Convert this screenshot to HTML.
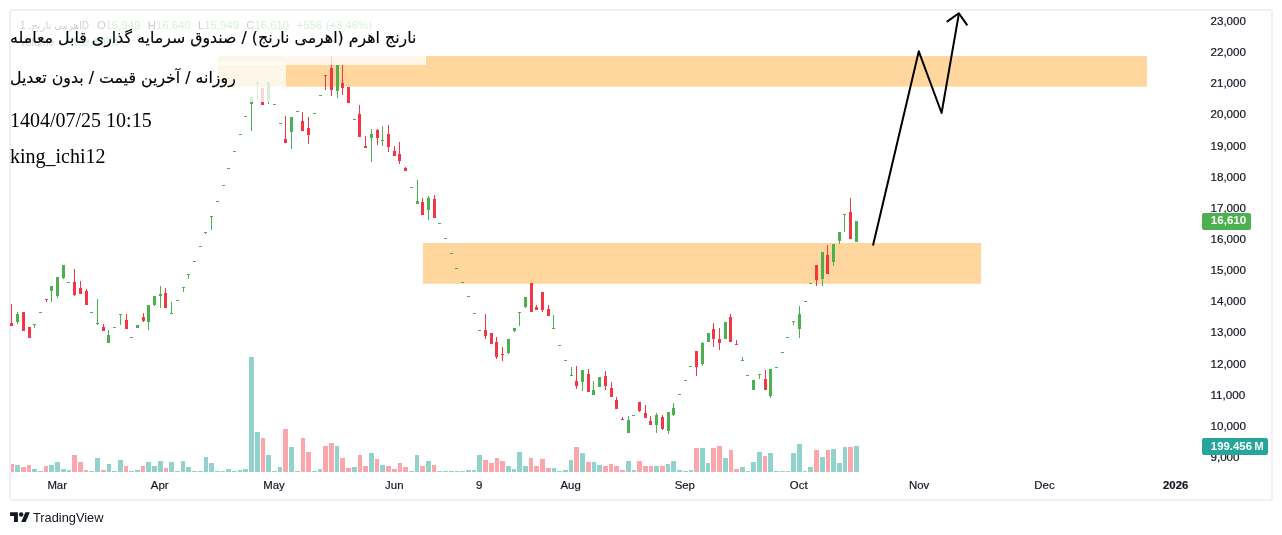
<!DOCTYPE html>
<html lang="fa"><head><meta charset="utf-8"><title>TradingView chart</title>
<style>
html,body{margin:0;padding:0;background:#fff;}
body{width:1282px;height:535px;position:relative;overflow:hidden;font-family:"Liberation Sans","DejaVu Sans",sans-serif;color:#131722;}
#frame{position:absolute;left:9px;top:9px;width:1260px;height:488px;border:2px solid #eff0f5;border-radius:3px;box-sizing:content-box;}
svg{position:absolute;left:0;top:0;}
.pl{position:absolute;left:1210.5px;font-size:11.6px;line-height:14px;height:14px;white-space:nowrap;color:#131722;-webkit-text-stroke:0.2px #131722;}
.tl{position:absolute;top:478.4px;font-size:11.4px;line-height:14px;height:14px;white-space:nowrap;transform:translateX(-50%);color:#131722;-webkit-text-stroke:0.2px #131722;}
.ov{position:absolute;background:rgba(255,255,255,0.78);}
.big{position:absolute;left:10px;white-space:nowrap;color:#000;font-family:"Liberation Serif","DejaVu Sans",serif;font-size:20px;line-height:24px;height:24px;}
.ar{font-family:"DejaVu Sans","Liberation Sans",sans-serif;-webkit-text-stroke:0.15px #000;}
.lg{position:absolute;left:19px;white-space:nowrap;font-size:10.6px;line-height:13px;color:#131722;}
.lg .g{color:#4CAF50}.lg .t{color:#26A69A}
.tag{position:absolute;color:#fff;font-weight:bold;font-size:11.6px;line-height:14px;white-space:nowrap;box-sizing:border-box;border-radius:2px;}
#logo{position:absolute;left:33px;top:510px;font-size:12.8px;line-height:16px;color:#131722;white-space:nowrap;}
</style></head><body>
<div id="frame"></div>

<div class="lg" style="top:18.6px;left:auto;right:1193px;font-size:10.1px">اهرمی نارنج, 1D</div>
<div class="lg" style="top:18.6px;left:97px;font-size:11.3px;word-spacing:0.6px">O<span class="g">15,949</span>&nbsp; H<span class="g">16,640</span>&nbsp; L<span class="g">15,949</span>&nbsp; C<span class="g">16,610</span>&nbsp; <span class="g">+556 (+3.46%)</span></div>
<div class="lg" style="top:35.8px;left:19.4px;font-size:10.5px">Volume</div>
<div class="lg t" style="top:35.8px;left:72px;font-size:10.3px;color:#26A69A">199.456M</div>
<svg width="1282" height="535" viewBox="0 0 1282 535">
<rect x="218" y="56" width="929" height="30.7" fill="#FFD79E"/>
<rect x="423" y="243" width="558" height="40.8" fill="#FFD79E"/>
<g shape-rendering="crispEdges">
<rect x="11" y="464" width="3" height="8" fill="#FAA6AC"/>
<rect x="15" y="465" width="5" height="7" fill="#92D2CC"/>
<rect x="21" y="467" width="5" height="5" fill="#FAA6AC"/>
<rect x="27" y="465" width="4" height="7" fill="#FAA6AC"/>
<rect x="32" y="469" width="5" height="3" fill="#92D2CC"/>
<rect x="38" y="471" width="5" height="1" fill="#92D2CC"/>
<rect x="44" y="466" width="4" height="6" fill="#FAA6AC"/>
<rect x="49" y="465" width="5" height="7" fill="#92D2CC"/>
<rect x="55" y="462" width="5" height="10" fill="#92D2CC"/>
<rect x="61" y="469" width="5" height="3" fill="#92D2CC"/>
<rect x="67" y="470" width="4" height="2" fill="#92D2CC"/>
<rect x="72" y="455" width="5" height="17" fill="#FAA6AC"/>
<rect x="78" y="462" width="5" height="10" fill="#FAA6AC"/>
<rect x="84" y="470" width="4" height="2" fill="#FAA6AC"/>
<rect x="89" y="471" width="5" height="1" fill="#92D2CC"/>
<rect x="95" y="458" width="5" height="14" fill="#92D2CC"/>
<rect x="101" y="470" width="5" height="2" fill="#FAA6AC"/>
<rect x="107" y="464" width="4" height="8" fill="#92D2CC"/>
<rect x="112" y="471" width="5" height="1" fill="#92D2CC"/>
<rect x="118" y="460" width="5" height="12" fill="#92D2CC"/>
<rect x="124" y="466" width="4" height="6" fill="#FAA6AC"/>
<rect x="129" y="471" width="5" height="1" fill="#92D2CC"/>
<rect x="135" y="470" width="5" height="2" fill="#92D2CC"/>
<rect x="141" y="466" width="4" height="6" fill="#FAA6AC"/>
<rect x="146" y="462" width="5" height="10" fill="#92D2CC"/>
<rect x="152" y="466" width="5" height="6" fill="#92D2CC"/>
<rect x="158" y="461" width="5" height="11" fill="#92D2CC"/>
<rect x="164" y="468" width="4" height="4" fill="#FAA6AC"/>
<rect x="169" y="462" width="5" height="10" fill="#92D2CC"/>
<rect x="175" y="471" width="5" height="1" fill="#92D2CC"/>
<rect x="181" y="461" width="4" height="11" fill="#92D2CC"/>
<rect x="186" y="467" width="5" height="5" fill="#92D2CC"/>
<rect x="192" y="471" width="5" height="1" fill="#92D2CC"/>
<rect x="198" y="471" width="5" height="1" fill="#92D2CC"/>
<rect x="204" y="457" width="4" height="15" fill="#92D2CC"/>
<rect x="209" y="463" width="5" height="9" fill="#92D2CC"/>
<rect x="215" y="471" width="5" height="1" fill="#92D2CC"/>
<rect x="221" y="471" width="4" height="1" fill="#92D2CC"/>
<rect x="226" y="469" width="5" height="3" fill="#92D2CC"/>
<rect x="232" y="471" width="5" height="1" fill="#92D2CC"/>
<rect x="238" y="470" width="4" height="2" fill="#92D2CC"/>
<rect x="243" y="469" width="5" height="3" fill="#92D2CC"/>
<rect x="249" y="357" width="5" height="115" fill="#92D2CC"/>
<rect x="255" y="432" width="5" height="40" fill="#92D2CC"/>
<rect x="261" y="438" width="4" height="34" fill="#FAA6AC"/>
<rect x="266" y="455" width="5" height="17" fill="#92D2CC"/>
<rect x="272" y="471" width="5" height="1" fill="#92D2CC"/>
<rect x="278" y="467" width="4" height="5" fill="#92D2CC"/>
<rect x="283" y="429" width="5" height="43" fill="#FAA6AC"/>
<rect x="289" y="447" width="5" height="25" fill="#92D2CC"/>
<rect x="295" y="471" width="5" height="1" fill="#92D2CC"/>
<rect x="301" y="438" width="4" height="34" fill="#FAA6AC"/>
<rect x="306" y="452" width="5" height="20" fill="#FAA6AC"/>
<rect x="312" y="471" width="5" height="1" fill="#92D2CC"/>
<rect x="318" y="469" width="4" height="3" fill="#92D2CC"/>
<rect x="323" y="446" width="5" height="26" fill="#FAA6AC"/>
<rect x="329" y="443" width="5" height="29" fill="#FAA6AC"/>
<rect x="335" y="446" width="4" height="26" fill="#92D2CC"/>
<rect x="340" y="458" width="5" height="14" fill="#FAA6AC"/>
<rect x="346" y="468" width="5" height="4" fill="#FAA6AC"/>
<rect x="352" y="467" width="5" height="5" fill="#92D2CC"/>
<rect x="358" y="455" width="4" height="17" fill="#FAA6AC"/>
<rect x="363" y="466" width="5" height="6" fill="#FAA6AC"/>
<rect x="369" y="453" width="5" height="19" fill="#92D2CC"/>
<rect x="375" y="459" width="4" height="13" fill="#FAA6AC"/>
<rect x="380" y="465" width="5" height="7" fill="#92D2CC"/>
<rect x="386" y="466" width="5" height="6" fill="#FAA6AC"/>
<rect x="392" y="469" width="5" height="3" fill="#FAA6AC"/>
<rect x="398" y="463" width="4" height="9" fill="#FAA6AC"/>
<rect x="403" y="467" width="5" height="5" fill="#FAA6AC"/>
<rect x="409" y="471" width="5" height="1" fill="#92D2CC"/>
<rect x="415" y="455" width="4" height="17" fill="#92D2CC"/>
<rect x="420" y="466" width="5" height="6" fill="#FAA6AC"/>
<rect x="426" y="461" width="5" height="11" fill="#92D2CC"/>
<rect x="432" y="465" width="4" height="7" fill="#FAA6AC"/>
<rect x="437" y="471" width="5" height="1" fill="#92D2CC"/>
<rect x="443" y="471" width="5" height="1" fill="#92D2CC"/>
<rect x="449" y="471" width="5" height="1" fill="#92D2CC"/>
<rect x="455" y="471" width="4" height="1" fill="#92D2CC"/>
<rect x="460" y="471" width="5" height="1" fill="#92D2CC"/>
<rect x="466" y="470" width="5" height="2" fill="#92D2CC"/>
<rect x="472" y="470" width="4" height="2" fill="#92D2CC"/>
<rect x="477" y="455" width="5" height="17" fill="#92D2CC"/>
<rect x="483" y="460" width="5" height="12" fill="#FAA6AC"/>
<rect x="489" y="463" width="5" height="9" fill="#FAA6AC"/>
<rect x="495" y="458" width="4" height="14" fill="#FAA6AC"/>
<rect x="500" y="461" width="5" height="11" fill="#FAA6AC"/>
<rect x="506" y="466" width="5" height="6" fill="#92D2CC"/>
<rect x="512" y="469" width="4" height="3" fill="#92D2CC"/>
<rect x="517" y="452" width="5" height="20" fill="#92D2CC"/>
<rect x="523" y="466" width="5" height="6" fill="#92D2CC"/>
<rect x="529" y="458" width="4" height="14" fill="#FAA6AC"/>
<rect x="534" y="466" width="5" height="6" fill="#FAA6AC"/>
<rect x="540" y="459" width="5" height="13" fill="#FAA6AC"/>
<rect x="546" y="468" width="5" height="4" fill="#FAA6AC"/>
<rect x="552" y="468" width="4" height="4" fill="#92D2CC"/>
<rect x="557" y="471" width="5" height="1" fill="#92D2CC"/>
<rect x="563" y="470" width="5" height="2" fill="#92D2CC"/>
<rect x="569" y="460" width="4" height="12" fill="#92D2CC"/>
<rect x="574" y="447" width="5" height="25" fill="#FAA6AC"/>
<rect x="580" y="453" width="5" height="19" fill="#92D2CC"/>
<rect x="586" y="462" width="5" height="10" fill="#FAA6AC"/>
<rect x="592" y="462" width="4" height="10" fill="#92D2CC"/>
<rect x="597" y="465" width="5" height="7" fill="#92D2CC"/>
<rect x="603" y="466" width="5" height="6" fill="#FAA6AC"/>
<rect x="609" y="464" width="4" height="8" fill="#FAA6AC"/>
<rect x="614" y="466" width="5" height="6" fill="#FAA6AC"/>
<rect x="620" y="470" width="5" height="2" fill="#FAA6AC"/>
<rect x="626" y="461" width="5" height="11" fill="#92D2CC"/>
<rect x="632" y="470" width="4" height="2" fill="#92D2CC"/>
<rect x="637" y="461" width="5" height="11" fill="#FAA6AC"/>
<rect x="643" y="466" width="5" height="6" fill="#FAA6AC"/>
<rect x="649" y="466" width="4" height="6" fill="#FAA6AC"/>
<rect x="654" y="466" width="5" height="6" fill="#92D2CC"/>
<rect x="660" y="466" width="5" height="6" fill="#FAA6AC"/>
<rect x="666" y="464" width="4" height="8" fill="#92D2CC"/>
<rect x="671" y="461" width="5" height="11" fill="#92D2CC"/>
<rect x="677" y="470" width="5" height="2" fill="#92D2CC"/>
<rect x="683" y="471" width="5" height="1" fill="#92D2CC"/>
<rect x="689" y="470" width="4" height="2" fill="#92D2CC"/>
<rect x="694" y="448" width="5" height="24" fill="#FAA6AC"/>
<rect x="700" y="448" width="5" height="24" fill="#92D2CC"/>
<rect x="706" y="463" width="4" height="9" fill="#92D2CC"/>
<rect x="711" y="448" width="5" height="24" fill="#FAA6AC"/>
<rect x="717" y="446" width="5" height="26" fill="#FAA6AC"/>
<rect x="723" y="458" width="5" height="14" fill="#92D2CC"/>
<rect x="729" y="450" width="4" height="22" fill="#FAA6AC"/>
<rect x="734" y="469" width="5" height="3" fill="#FAA6AC"/>
<rect x="740" y="467" width="5" height="5" fill="#92D2CC"/>
<rect x="746" y="471" width="4" height="1" fill="#92D2CC"/>
<rect x="751" y="462" width="5" height="10" fill="#92D2CC"/>
<rect x="757" y="452" width="5" height="20" fill="#92D2CC"/>
<rect x="763" y="456" width="4" height="16" fill="#FAA6AC"/>
<rect x="768" y="453" width="5" height="19" fill="#92D2CC"/>
<rect x="774" y="471" width="5" height="1" fill="#92D2CC"/>
<rect x="780" y="471" width="5" height="1" fill="#92D2CC"/>
<rect x="786" y="471" width="4" height="1" fill="#92D2CC"/>
<rect x="791" y="453" width="5" height="19" fill="#92D2CC"/>
<rect x="797" y="444" width="5" height="28" fill="#92D2CC"/>
<rect x="803" y="471" width="4" height="1" fill="#92D2CC"/>
<rect x="808" y="467" width="5" height="5" fill="#92D2CC"/>
<rect x="814" y="450" width="5" height="22" fill="#FAA6AC"/>
<rect x="820" y="457" width="5" height="15" fill="#92D2CC"/>
<rect x="826" y="450" width="4" height="22" fill="#FAA6AC"/>
<rect x="831" y="449" width="5" height="23" fill="#92D2CC"/>
<rect x="837" y="463" width="5" height="9" fill="#92D2CC"/>
<rect x="843" y="447" width="4" height="25" fill="#92D2CC"/>
<rect x="848" y="447" width="5" height="25" fill="#FAA6AC"/>
<rect x="854" y="446" width="5" height="26" fill="#92D2CC"/>
<rect x="11" y="304" width="1" height="22" fill="#F23645"/>
<rect x="10" y="323" width="3" height="3" fill="#F23645"/>
<rect x="17" y="312" width="1" height="12" fill="#4CAF50"/>
<rect x="16" y="314" width="3" height="8" fill="#4CAF50"/>
<rect x="22" y="312" width="3" height="19" fill="#F23645"/>
<rect x="28" y="327" width="3" height="11" fill="#F23645"/>
<rect x="34" y="324" width="1" height="4" fill="#4CAF50"/>
<rect x="33" y="324" width="3" height="1" fill="#4CAF50"/>
<rect x="39" y="312" width="3" height="1" fill="#4CAF50"/>
<rect x="46" y="299" width="1" height="3" fill="#F23645"/>
<rect x="45" y="299" width="3" height="1" fill="#F23645"/>
<rect x="51" y="286" width="1" height="16" fill="#4CAF50"/>
<rect x="50" y="286" width="3" height="5" fill="#4CAF50"/>
<rect x="57" y="277" width="1" height="21" fill="#4CAF50"/>
<rect x="56" y="277" width="3" height="19" fill="#4CAF50"/>
<rect x="63" y="265" width="1" height="14" fill="#4CAF50"/>
<rect x="62" y="265" width="3" height="13" fill="#4CAF50"/>
<rect x="67" y="282" width="3" height="1" fill="#4CAF50"/>
<rect x="74" y="269" width="1" height="27" fill="#F23645"/>
<rect x="73" y="282" width="3" height="13" fill="#F23645"/>
<rect x="80" y="281" width="1" height="13" fill="#F23645"/>
<rect x="79" y="288" width="3" height="6" fill="#F23645"/>
<rect x="86" y="289" width="1" height="16" fill="#F23645"/>
<rect x="85" y="291" width="3" height="14" fill="#F23645"/>
<rect x="90" y="312" width="3" height="1" fill="#4CAF50"/>
<rect x="97" y="299" width="1" height="26" fill="#4CAF50"/>
<rect x="96" y="323" width="3" height="1" fill="#4CAF50"/>
<rect x="103" y="324" width="1" height="7" fill="#F23645"/>
<rect x="102" y="327" width="3" height="4" fill="#F23645"/>
<rect x="108" y="330" width="1" height="13" fill="#4CAF50"/>
<rect x="107" y="335" width="3" height="8" fill="#4CAF50"/>
<rect x="113" y="327" width="3" height="1" fill="#4CAF50"/>
<rect x="120" y="314" width="1" height="11" fill="#4CAF50"/>
<rect x="119" y="314" width="3" height="1" fill="#4CAF50"/>
<rect x="126" y="314" width="1" height="15" fill="#F23645"/>
<rect x="125" y="320" width="3" height="9" fill="#F23645"/>
<rect x="130" y="337" width="3" height="1" fill="#4CAF50"/>
<rect x="136" y="325" width="3" height="3" fill="#4CAF50"/>
<rect x="143" y="313" width="1" height="9" fill="#F23645"/>
<rect x="142" y="317" width="3" height="4" fill="#F23645"/>
<rect x="148" y="305" width="1" height="25" fill="#4CAF50"/>
<rect x="147" y="305" width="3" height="17" fill="#4CAF50"/>
<rect x="154" y="296" width="1" height="10" fill="#4CAF50"/>
<rect x="153" y="296" width="3" height="9" fill="#4CAF50"/>
<rect x="160" y="286" width="1" height="22" fill="#4CAF50"/>
<rect x="159" y="294" width="3" height="2" fill="#4CAF50"/>
<rect x="165" y="288" width="1" height="20" fill="#F23645"/>
<rect x="164" y="293" width="3" height="15" fill="#F23645"/>
<rect x="171" y="302" width="1" height="12" fill="#4CAF50"/>
<rect x="170" y="313" width="3" height="1" fill="#4CAF50"/>
<rect x="176" y="300" width="3" height="1" fill="#4CAF50"/>
<rect x="183" y="287" width="1" height="5" fill="#4CAF50"/>
<rect x="182" y="287" width="3" height="1" fill="#4CAF50"/>
<rect x="188" y="274" width="1" height="5" fill="#4CAF50"/>
<rect x="187" y="274" width="3" height="1" fill="#4CAF50"/>
<rect x="193" y="261" width="3" height="1" fill="#4CAF50"/>
<rect x="199" y="246" width="3" height="1" fill="#4CAF50"/>
<rect x="205" y="232" width="1" height="2" fill="#4CAF50"/>
<rect x="204" y="232" width="3" height="1" fill="#4CAF50"/>
<rect x="211" y="216" width="1" height="14" fill="#4CAF50"/>
<rect x="210" y="216" width="3" height="1" fill="#4CAF50"/>
<rect x="216" y="201" width="3" height="1" fill="#4CAF50"/>
<rect x="222" y="185" width="3" height="1" fill="#4CAF50"/>
<rect x="227" y="168" width="3" height="1" fill="#4CAF50"/>
<rect x="233" y="151" width="3" height="1" fill="#4CAF50"/>
<rect x="239" y="134" width="3" height="1" fill="#4CAF50"/>
<rect x="244" y="116" width="3" height="1" fill="#4CAF50"/>
<rect x="251" y="97" width="1" height="34" fill="#4CAF50"/>
<rect x="250" y="97" width="3" height="7" fill="#4CAF50"/>
<rect x="257" y="82" width="1" height="18" fill="#4CAF50"/>
<rect x="256" y="82" width="3" height="2" fill="#4CAF50"/>
<rect x="261" y="88" width="3" height="17" fill="#F23645"/>
<rect x="268" y="82" width="1" height="22" fill="#4CAF50"/>
<rect x="267" y="82" width="3" height="19" fill="#4CAF50"/>
<rect x="273" y="104" width="3" height="1" fill="#4CAF50"/>
<rect x="279" y="123" width="3" height="1" fill="#4CAF50"/>
<rect x="285" y="116" width="1" height="27" fill="#F23645"/>
<rect x="284" y="139" width="3" height="4" fill="#F23645"/>
<rect x="291" y="117" width="1" height="32" fill="#4CAF50"/>
<rect x="290" y="117" width="3" height="15" fill="#4CAF50"/>
<rect x="296" y="111" width="3" height="1" fill="#4CAF50"/>
<rect x="302" y="112" width="1" height="19" fill="#F23645"/>
<rect x="301" y="121" width="3" height="10" fill="#F23645"/>
<rect x="308" y="117" width="1" height="27" fill="#F23645"/>
<rect x="307" y="128" width="3" height="7" fill="#F23645"/>
<rect x="313" y="113" width="3" height="1" fill="#4CAF50"/>
<rect x="319" y="95" width="3" height="1" fill="#4CAF50"/>
<rect x="325" y="75" width="1" height="15" fill="#F23645"/>
<rect x="324" y="75" width="3" height="1" fill="#F23645"/>
<rect x="331" y="56" width="1" height="40" fill="#F23645"/>
<rect x="330" y="68" width="3" height="22" fill="#F23645"/>
<rect x="337" y="65" width="1" height="33" fill="#4CAF50"/>
<rect x="336" y="65" width="3" height="26" fill="#4CAF50"/>
<rect x="342" y="65" width="1" height="30" fill="#F23645"/>
<rect x="341" y="83" width="3" height="5" fill="#F23645"/>
<rect x="347" y="87" width="3" height="16" fill="#F23645"/>
<rect x="353" y="119" width="3" height="1" fill="#4CAF50"/>
<rect x="359" y="105" width="1" height="32" fill="#F23645"/>
<rect x="358" y="114" width="3" height="23" fill="#F23645"/>
<rect x="365" y="136" width="1" height="12" fill="#F23645"/>
<rect x="364" y="146" width="3" height="2" fill="#F23645"/>
<rect x="371" y="129" width="1" height="33" fill="#4CAF50"/>
<rect x="370" y="134" width="3" height="4" fill="#4CAF50"/>
<rect x="377" y="129" width="1" height="16" fill="#F23645"/>
<rect x="376" y="130" width="3" height="8" fill="#F23645"/>
<rect x="382" y="126" width="1" height="20" fill="#4CAF50"/>
<rect x="381" y="140" width="3" height="1" fill="#4CAF50"/>
<rect x="388" y="125" width="1" height="27" fill="#F23645"/>
<rect x="387" y="134" width="3" height="13" fill="#F23645"/>
<rect x="394" y="146" width="1" height="10" fill="#F23645"/>
<rect x="393" y="151" width="3" height="5" fill="#F23645"/>
<rect x="399" y="142" width="1" height="22" fill="#F23645"/>
<rect x="398" y="154" width="3" height="7" fill="#F23645"/>
<rect x="405" y="167" width="1" height="4" fill="#F23645"/>
<rect x="404" y="168" width="3" height="3" fill="#F23645"/>
<rect x="410" y="187" width="3" height="1" fill="#4CAF50"/>
<rect x="417" y="180" width="1" height="24" fill="#4CAF50"/>
<rect x="416" y="201" width="3" height="3" fill="#4CAF50"/>
<rect x="422" y="198" width="1" height="17" fill="#F23645"/>
<rect x="421" y="202" width="3" height="13" fill="#F23645"/>
<rect x="428" y="196" width="1" height="24" fill="#4CAF50"/>
<rect x="427" y="198" width="3" height="12" fill="#4CAF50"/>
<rect x="434" y="195" width="1" height="23" fill="#F23645"/>
<rect x="433" y="199" width="3" height="19" fill="#F23645"/>
<rect x="438" y="223" width="3" height="1" fill="#4CAF50"/>
<rect x="444" y="238" width="3" height="1" fill="#4CAF50"/>
<rect x="450" y="253" width="3" height="1" fill="#4CAF50"/>
<rect x="455" y="268" width="3" height="1" fill="#4CAF50"/>
<rect x="461" y="282" width="3" height="1" fill="#4CAF50"/>
<rect x="467" y="296" width="3" height="1" fill="#4CAF50"/>
<rect x="473" y="313" width="3" height="1" fill="#4CAF50"/>
<rect x="478" y="330" width="3" height="1" fill="#4CAF50"/>
<rect x="485" y="314" width="1" height="25" fill="#F23645"/>
<rect x="484" y="330" width="3" height="6" fill="#F23645"/>
<rect x="490" y="333" width="3" height="11" fill="#F23645"/>
<rect x="496" y="337" width="1" height="22" fill="#F23645"/>
<rect x="495" y="342" width="3" height="15" fill="#F23645"/>
<rect x="502" y="347" width="1" height="14" fill="#F23645"/>
<rect x="501" y="354" width="3" height="1" fill="#F23645"/>
<rect x="508" y="339" width="1" height="15" fill="#4CAF50"/>
<rect x="507" y="339" width="3" height="14" fill="#4CAF50"/>
<rect x="514" y="328" width="1" height="4" fill="#4CAF50"/>
<rect x="513" y="328" width="3" height="3" fill="#4CAF50"/>
<rect x="519" y="312" width="1" height="14" fill="#4CAF50"/>
<rect x="518" y="312" width="3" height="1" fill="#4CAF50"/>
<rect x="525" y="297" width="1" height="11" fill="#4CAF50"/>
<rect x="524" y="297" width="3" height="10" fill="#4CAF50"/>
<rect x="530" y="283" width="3" height="29" fill="#F23645"/>
<rect x="536" y="305" width="1" height="5" fill="#F23645"/>
<rect x="535" y="307" width="3" height="3" fill="#F23645"/>
<rect x="542" y="292" width="1" height="20" fill="#F23645"/>
<rect x="541" y="292" width="3" height="18" fill="#F23645"/>
<rect x="548" y="305" width="1" height="11" fill="#F23645"/>
<rect x="547" y="309" width="3" height="7" fill="#F23645"/>
<rect x="553" y="315" width="1" height="14" fill="#4CAF50"/>
<rect x="552" y="328" width="3" height="1" fill="#4CAF50"/>
<rect x="558" y="345" width="3" height="1" fill="#4CAF50"/>
<rect x="564" y="360" width="3" height="1" fill="#4CAF50"/>
<rect x="571" y="367" width="1" height="9" fill="#4CAF50"/>
<rect x="570" y="375" width="3" height="1" fill="#4CAF50"/>
<rect x="576" y="366" width="1" height="23" fill="#F23645"/>
<rect x="575" y="381" width="3" height="5" fill="#F23645"/>
<rect x="582" y="370" width="1" height="21" fill="#4CAF50"/>
<rect x="581" y="370" width="3" height="12" fill="#4CAF50"/>
<rect x="588" y="369" width="1" height="23" fill="#F23645"/>
<rect x="587" y="374" width="3" height="18" fill="#F23645"/>
<rect x="593" y="381" width="1" height="14" fill="#4CAF50"/>
<rect x="592" y="390" width="3" height="5" fill="#4CAF50"/>
<rect x="598" y="377" width="3" height="10" fill="#4CAF50"/>
<rect x="605" y="371" width="1" height="19" fill="#F23645"/>
<rect x="604" y="376" width="3" height="10" fill="#F23645"/>
<rect x="611" y="382" width="1" height="15" fill="#F23645"/>
<rect x="610" y="388" width="3" height="9" fill="#F23645"/>
<rect x="616" y="397" width="1" height="12" fill="#F23645"/>
<rect x="615" y="400" width="3" height="9" fill="#F23645"/>
<rect x="622" y="417" width="1" height="3" fill="#F23645"/>
<rect x="621" y="419" width="3" height="1" fill="#F23645"/>
<rect x="628" y="416" width="1" height="17" fill="#4CAF50"/>
<rect x="627" y="420" width="3" height="13" fill="#4CAF50"/>
<rect x="632" y="415" width="3" height="1" fill="#4CAF50"/>
<rect x="639" y="402" width="1" height="10" fill="#F23645"/>
<rect x="638" y="402" width="3" height="9" fill="#F23645"/>
<rect x="645" y="405" width="1" height="13" fill="#F23645"/>
<rect x="644" y="413" width="3" height="5" fill="#F23645"/>
<rect x="650" y="416" width="1" height="9" fill="#F23645"/>
<rect x="649" y="421" width="3" height="4" fill="#F23645"/>
<rect x="656" y="413" width="1" height="20" fill="#4CAF50"/>
<rect x="655" y="415" width="3" height="10" fill="#4CAF50"/>
<rect x="662" y="415" width="1" height="15" fill="#F23645"/>
<rect x="661" y="417" width="3" height="12" fill="#F23645"/>
<rect x="668" y="412" width="1" height="22" fill="#4CAF50"/>
<rect x="667" y="412" width="3" height="19" fill="#4CAF50"/>
<rect x="673" y="403" width="1" height="13" fill="#4CAF50"/>
<rect x="672" y="408" width="3" height="7" fill="#4CAF50"/>
<rect x="678" y="394" width="3" height="1" fill="#4CAF50"/>
<rect x="684" y="380" width="3" height="1" fill="#4CAF50"/>
<rect x="689" y="366" width="3" height="1" fill="#4CAF50"/>
<rect x="696" y="351" width="1" height="25" fill="#F23645"/>
<rect x="695" y="351" width="3" height="16" fill="#F23645"/>
<rect x="702" y="342" width="1" height="24" fill="#4CAF50"/>
<rect x="701" y="343" width="3" height="21" fill="#4CAF50"/>
<rect x="707" y="333" width="3" height="9" fill="#4CAF50"/>
<rect x="713" y="323" width="1" height="24" fill="#F23645"/>
<rect x="712" y="329" width="3" height="10" fill="#F23645"/>
<rect x="719" y="328" width="1" height="22" fill="#F23645"/>
<rect x="718" y="339" width="3" height="4" fill="#F23645"/>
<rect x="724" y="322" width="3" height="17" fill="#4CAF50"/>
<rect x="730" y="314" width="1" height="28" fill="#F23645"/>
<rect x="729" y="317" width="3" height="25" fill="#F23645"/>
<rect x="736" y="340" width="1" height="5" fill="#F23645"/>
<rect x="735" y="344" width="3" height="1" fill="#F23645"/>
<rect x="742" y="357" width="1" height="4" fill="#4CAF50"/>
<rect x="741" y="360" width="3" height="1" fill="#4CAF50"/>
<rect x="746" y="375" width="3" height="1" fill="#4CAF50"/>
<rect x="752" y="380" width="3" height="10" fill="#4CAF50"/>
<rect x="759" y="374" width="1" height="5" fill="#4CAF50"/>
<rect x="758" y="374" width="3" height="1" fill="#4CAF50"/>
<rect x="765" y="370" width="1" height="20" fill="#F23645"/>
<rect x="764" y="379" width="3" height="11" fill="#F23645"/>
<rect x="770" y="369" width="1" height="29" fill="#4CAF50"/>
<rect x="769" y="369" width="3" height="27" fill="#4CAF50"/>
<rect x="775" y="367" width="3" height="1" fill="#4CAF50"/>
<rect x="781" y="352" width="3" height="1" fill="#4CAF50"/>
<rect x="786" y="337" width="3" height="1" fill="#4CAF50"/>
<rect x="793" y="321" width="1" height="4" fill="#4CAF50"/>
<rect x="792" y="321" width="3" height="1" fill="#4CAF50"/>
<rect x="799" y="306" width="1" height="32" fill="#4CAF50"/>
<rect x="798" y="314" width="3" height="15" fill="#4CAF50"/>
<rect x="804" y="301" width="3" height="1" fill="#4CAF50"/>
<rect x="809" y="283" width="3" height="1" fill="#4CAF50"/>
<rect x="816" y="265" width="1" height="21" fill="#F23645"/>
<rect x="815" y="265" width="3" height="15" fill="#F23645"/>
<rect x="822" y="252" width="1" height="34" fill="#4CAF50"/>
<rect x="821" y="252" width="3" height="27" fill="#4CAF50"/>
<rect x="827" y="245" width="1" height="29" fill="#F23645"/>
<rect x="826" y="255" width="3" height="19" fill="#F23645"/>
<rect x="833" y="244" width="1" height="22" fill="#4CAF50"/>
<rect x="832" y="244" width="3" height="18" fill="#4CAF50"/>
<rect x="839" y="232" width="1" height="12" fill="#4CAF50"/>
<rect x="838" y="232" width="3" height="9" fill="#4CAF50"/>
<rect x="844" y="214" width="1" height="18" fill="#4CAF50"/>
<rect x="843" y="214" width="3" height="1" fill="#4CAF50"/>
<rect x="850" y="198" width="1" height="41" fill="#F23645"/>
<rect x="849" y="212" width="3" height="27" fill="#F23645"/>
<rect x="855" y="221" width="3" height="21" fill="#4CAF50"/>
</g>
<polyline points="873,245.5 918.8,51.3 941.6,113 958.9,13.6" fill="none" stroke="#000" stroke-width="2" stroke-linejoin="round" stroke-linecap="butt"/>
<polyline points="946.7,21.9 958.9,13.3 967.3,25.4" fill="none" stroke="#000" stroke-width="2" stroke-linejoin="round" stroke-linecap="butt"/>
<g transform="translate(10.1,510.1) scale(0.556,0.544)" fill="#131722"><path d="M14 22H7V11H0V4h14v18z"/><circle cx="20" cy="8" r="4"/><path d="M28 22h-8l7.5-18h8L28 22z"/></g>
</svg>
<div class="ov" style="left:11px;top:11px;width:415px;height:53.6px"></div>
<div class="ov" style="left:11px;top:62.2px;width:275px;height:39.8px"></div>
<div class="big ar" style="top:25.5px;font-size:15.8px">نارنج اهرم (اهرمی نارنج) / صندوق سرمایه گذاری قابل معامله</div>
<div class="big ar" style="top:65.5px;font-size:15.8px">روزانه / آخرین قیمت / بدون تعدیل</div>
<div class="big" style="top:108.4px">1404/07/25 10:15</div>
<div class="big" style="top:143.6px">king_ichi12</div>
<div class="pl" style="top:14.0px">23,000</div>
<div class="pl" style="top:45.1px">22,000</div>
<div class="pl" style="top:76.3px">21,000</div>
<div class="pl" style="top:107.4px">20,000</div>
<div class="pl" style="top:138.6px">19,000</div>
<div class="pl" style="top:169.7px">18,000</div>
<div class="pl" style="top:200.8px">17,000</div>
<div class="pl" style="top:232.0px">16,000</div>
<div class="pl" style="top:263.1px">15,000</div>
<div class="pl" style="top:294.3px">14,000</div>
<div class="pl" style="top:325.4px">13,000</div>
<div class="pl" style="top:356.5px">12,000</div>
<div class="pl" style="top:387.7px">11,000</div>
<div class="pl" style="top:418.8px">10,000</div>
<div class="pl" style="top:450.0px">9,000</div>
<div class="tag" style="left:1202px;top:213px;width:49px;height:16.8px;background:#4CAF50;padding:0.1px 0 0 8.8px">16,610</div>
<div class="tag" style="left:1202px;top:438px;width:66px;height:16.7px;background:#26A69A;padding:1.2px 0 0 8.8px;font-size:11.4px">199.456&#8201;M</div>
<div class="tl" style="left:57.2px;">Mar</div>
<div class="tl" style="left:159.7px;">Apr</div>
<div class="tl" style="left:274px;">May</div>
<div class="tl" style="left:394.3px;">Jun</div>
<div class="tl" style="left:479.1px;">9</div>
<div class="tl" style="left:570.6px;">Aug</div>
<div class="tl" style="left:684.8px;">Sep</div>
<div class="tl" style="left:798.7px;">Oct</div>
<div class="tl" style="left:919.2px;">Nov</div>
<div class="tl" style="left:1044.5px;">Dec</div>
<div class="tl" style="left:1175.7px;font-weight:bold;">2026</div>
<div id="logo">TradingView</div>
</body></html>
